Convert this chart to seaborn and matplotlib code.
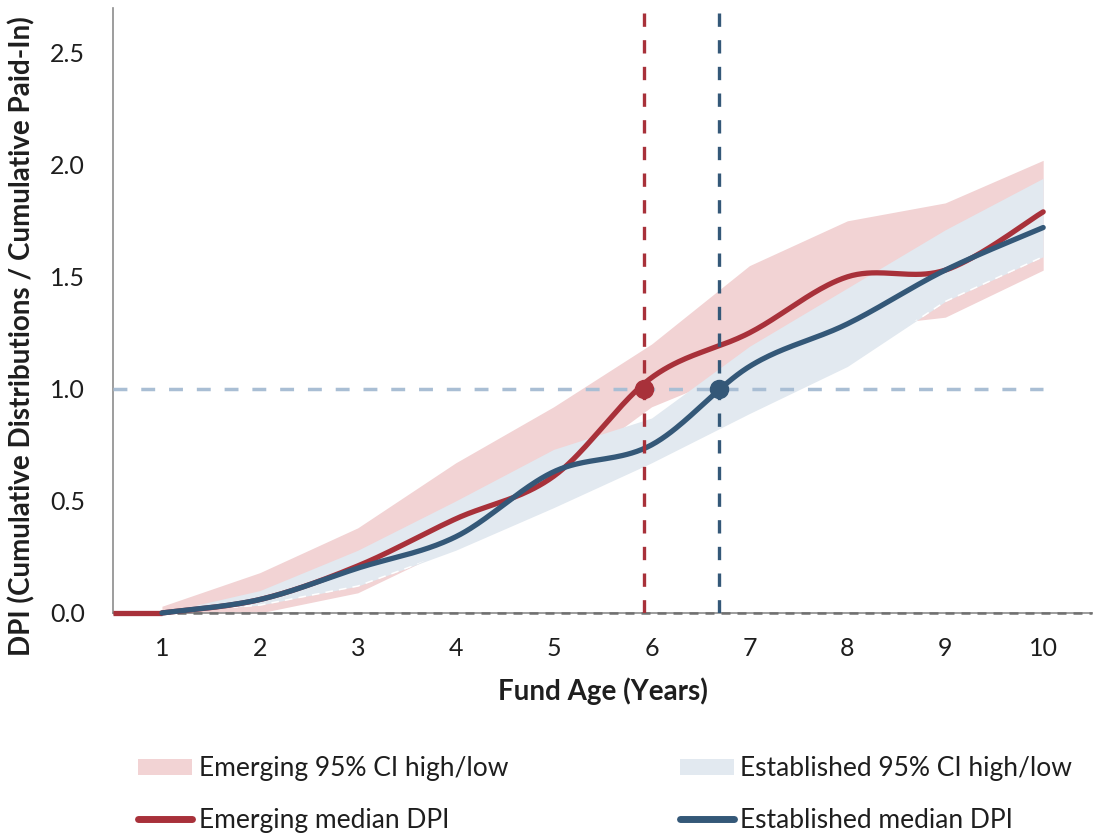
import numpy as np
import pandas as pd
import matplotlib
matplotlib.use("Agg")
import matplotlib.pyplot as plt
from matplotlib.patches import Patch
from matplotlib.lines import Line2D
import seaborn as sns

# ---------------- data ----------------
years = [1, 2, 3, 4, 5, 6, 7, 8, 9, 10]
em_high = [0.03, 0.18, 0.38, 0.67, 0.92, 1.20, 1.55, 1.75, 1.83, 2.02]
em_low = [0.00, 0.00, 0.09, 0.30, 0.60, 0.92, 1.10, 1.27, 1.32, 1.53]
est_high = [0.00, 0.10, 0.28, 0.50, 0.73, 0.87, 1.19, 1.45, 1.71, 1.94]
est_low = [0.00, 0.035, 0.12, 0.28, 0.47, 0.67, 0.89, 1.10, 1.39, 1.59]

em_med = [0.0, 0.06, 0.21, 0.42, 0.61, 1.05, 1.25, 1.50, 1.53, 1.79]
est_med = [0.0, 0.06, 0.20, 0.34, 0.63, 0.75, 1.10, 1.29, 1.53, 1.72]
# emerging median is also shown flat at zero before year 1
em_lead_years = [0.5, 1]
em_lead = [0.0, 0.0]

em_cross = 5.92     # year emerging median reaches DPI 1.0
est_cross = 6.69    # year established median reaches DPI 1.0
breakeven = 1.0
x_start = 0.5

y_ticks = [0.0, 0.5, 1.0, 1.5, 2.0, 2.5]
labels = {
    "em_ci": "Emerging 95% CI high/low",
    "est_ci": "Established 95% CI high/low",
    "em_med": "Emerging median DPI",
    "est_med": "Established median DPI",
}
xlabel = "Fund Age (Years)"
ylabel = "DPI (Cumulative Distributions / Cumulative Paid-In)"

# ---------------- style ----------------
RED = "#A8313A"
BLUE = "#345878"
PINK = "#F2D3D4"
LIGHTBLUE = "#E2E9F0"
REFLINE = "#A9BED4"
GRAY = "#8C8C8C"
TEXT = "#1E1E1E"

sns.set_theme(style="white")
plt.rcParams["font.family"] = ["Lato", "DejaVu Sans"]


def smooth(xs, ys, n=40):
    """Catmull-Rom smoothing (like a spreadsheet's smoothed line)."""
    p = np.column_stack([xs, ys]).astype(float)
    p = np.vstack([p[0], p, p[-1]])
    out = []
    for i in range(1, len(p) - 2):
        p0, p1, p2, p3 = p[i - 1], p[i], p[i + 1], p[i + 2]
        t = np.linspace(0, 1, n, endpoint=False)[:, None]
        seg = 0.5 * ((2 * p1) + (-p0 + p2) * t + (2 * p0 - 5 * p1 + 4 * p2 - p3) * t ** 2
                     + (-p0 + 3 * p1 - 3 * p2 + p3) * t ** 3)
        out.append(seg)
    out.append(p[-2][None, :])
    arr = np.vstack(out)
    return arr[:, 0], arr[:, 1]


fig = plt.figure(figsize=(10.94, 8.35), dpi=100)
ax = fig.add_axes([0.1033, 0.2659, 0.8950, 0.7246])

# bands
pink_band = ax.fill_between(years, em_low, em_high, color=PINK, lw=0, zorder=1)
ax.fill_between(years, est_low, est_high, color=LIGHTBLUE, lw=0, zorder=2)
edge, = ax.plot(years, est_low, color="white", lw=1.1, dashes=(5, 4), zorder=2.5)
edge.set_clip_path(pink_band.get_paths()[0], ax.transData)

# reference lines
ax.axhline(0, color="#707070", lw=1.8, dashes=(3.6, 2.8), zorder=3, clip_on=False)
ax.plot([x_start, years[-1]], [breakeven, breakeven], color=REFLINE, lw=2.5,
        dashes=(4, 4), zorder=3)

# medians (smoothed)
ex, ey = smooth(years, em_med)
bx, by = smooth(years, est_med)
df_em = pd.DataFrame({"x": ex, "y": ey})
df_est = pd.DataFrame({"x": bx, "y": by})
sns.lineplot(x=em_lead_years, y=em_lead, color=RED, lw=3.8, ax=ax, zorder=4,
             solid_capstyle="butt", clip_on=False)
sns.lineplot(data=df_em, x="x", y="y", sort=False, color=RED, lw=3.8, ax=ax,
             zorder=4, solid_capstyle="round", clip_on=False)
sns.lineplot(data=df_est, x="x", y="y", sort=False, color=BLUE, lw=3.8, ax=ax,
             zorder=5, solid_capstyle="round", clip_on=False)

# vertical crossing lines and markers
ax.axvline(em_cross, color=RED, lw=2.4, dashes=(4, 4), zorder=6)
ax.axvline(est_cross, color=BLUE, lw=2.4, dashes=(4, 4), zorder=6)
ax.plot([em_cross], [breakeven], "o", color=RED, ms=13, zorder=7)
ax.plot([est_cross], [breakeven], "o", color=BLUE, ms=13, zorder=7)

# axes
ax.set_xlim(0.5, 10.5)
ax.set_ylim(0, 2.7)
ax.set_xticks(years)
ax.set_xticklabels([str(y) for y in years])
ax.set_yticks(y_ticks)
ax.set_yticklabels([f"{v:.1f}" for v in y_ticks])
ax.tick_params(axis="both", labelsize=18, colors=GRAY, labelcolor=TEXT,
               direction="out", width=1.2)
ax.tick_params(axis="x", length=5.5, pad=12)
ax.tick_params(axis="y", length=7, pad=13)
for s in ["top", "right"]:
    ax.spines[s].set_visible(False)
for s in ["left", "bottom"]:
    ax.spines[s].set_color(GRAY)
    ax.spines[s].set_linewidth(1.2)
ax.set_xlabel(xlabel, fontsize=20, fontweight="bold", color=TEXT, labelpad=12)
ax.set_ylabel(ylabel, fontsize=20, fontweight="bold", color=TEXT)
ax.yaxis.set_label_coords(-0.079, 0.458)

# legend
handles = [
    Patch(facecolor=PINK, edgecolor="none"),
    Line2D([0], [0], color=RED, lw=5, solid_capstyle="round"),
    Patch(facecolor=LIGHTBLUE, edgecolor="none"),
    Line2D([0], [0], color=BLUE, lw=5, solid_capstyle="round"),
]
leg_labels = [labels["em_ci"], labels["em_med"], labels["est_ci"], labels["est_med"]]
leg = fig.legend(handles, leg_labels, ncol=2, loc="center left",
                 bbox_to_anchor=(0.126, 0.0485), frameon=False, fontsize=19,
                 handlelength=2.05, handleheight=0.6, handletextpad=0.25,
                 labelspacing=1.0, columnspacing=6.5, borderpad=0, borderaxespad=0)
for t in leg.get_texts():
    t.set_color(TEXT)

fig.savefig("out.png", dpi=100)
